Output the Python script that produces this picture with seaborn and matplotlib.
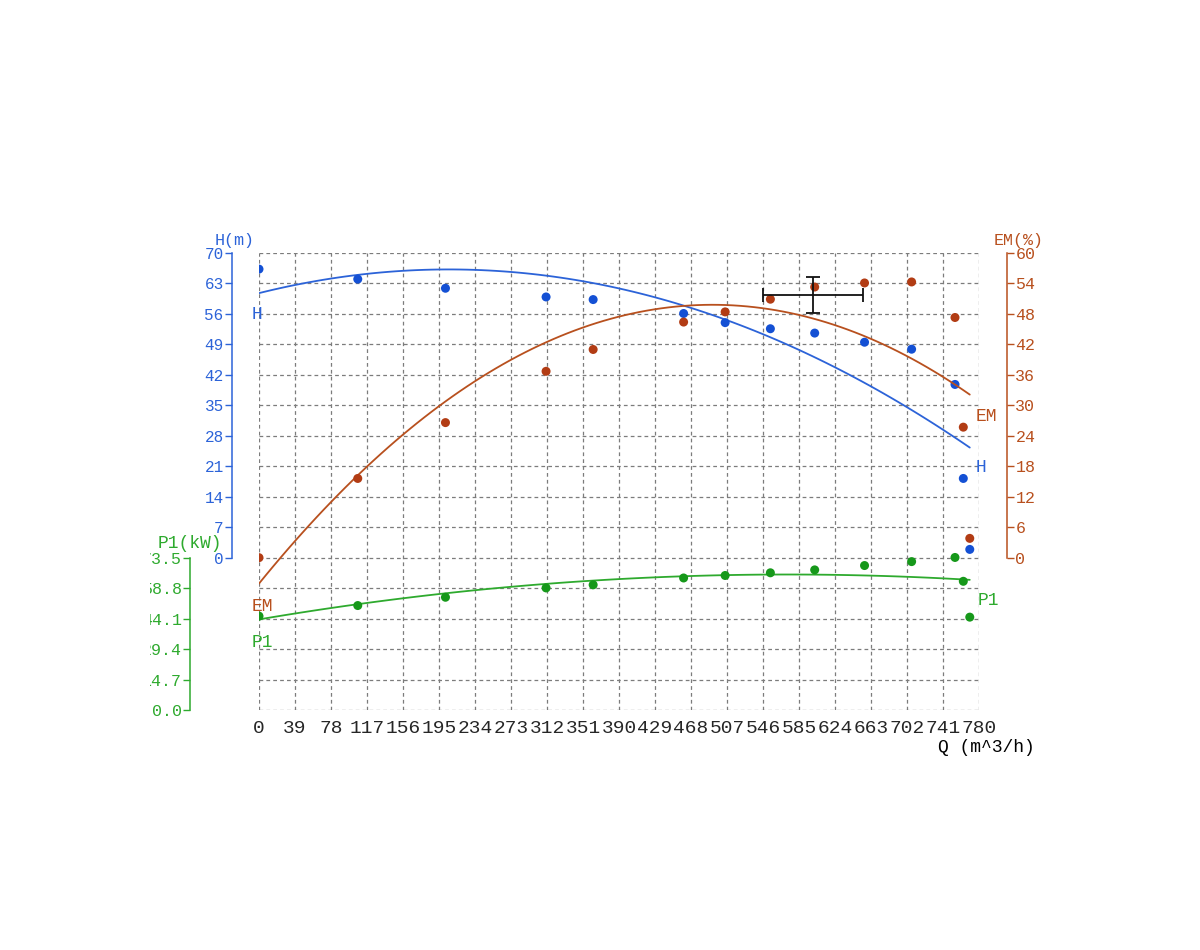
import matplotlib
matplotlib.use('Agg')
import matplotlib.pyplot as plt
import seaborn as sns
import numpy as np
from matplotlib.transforms import Bbox

# measured pump test points, Q in m^3/h
q_pts = [0, 107, 202, 311, 362, 460, 505, 554, 602, 656, 707, 754, 763, 770]
h_pts = [66.3, 64.0, 61.9, 59.9, 59.3, 56.1, 54.0, 52.6, 51.6, 49.5, 47.9, 39.8, 18.2, 1.9]
em_pts = [0.0, 15.6, 26.6, 36.7, 41.0, 46.4, 48.4, 50.9, 53.3, 54.1, 54.3, 47.3, 25.7, 3.8]
p1_pts = [45.3, 50.4, 54.4, 58.9, 60.4, 63.7, 64.9, 66.2, 67.6, 69.7, 71.6, 73.6, 62.1, 44.8]

# fitted curves (drawn as 2nd order fits)
q_fit = [0, 78, 156, 234, 312, 390, 468, 546, 624, 702, 770]
h_fit = [60.8, 64.1, 65.9, 66.1, 64.8, 61.9, 57.4, 51.3, 43.7, 34.6, 25.3]
em_fit = [-5.1, 11.0, 24.2, 34.7, 42.5, 47.5, 49.7, 49.1, 45.8, 39.7, 32.1]
p1_fit = [43.7, 49.2, 53.9, 57.8, 60.9, 63.2, 64.6, 65.3, 65.2, 64.3, 62.8]

# duty point cross (on the EM scale)
duty_q, duty_em = 600, 51.7
duty_qerr, duty_emerr = 54, 3.6

# axis ticks
q_ticks = list(range(0, 781, 39))
h_ticks = list(range(0, 71, 7))
em_ticks = list(range(0, 61, 6))
p1_ticks = [0.0, 14.7, 29.4, 44.1, 58.8, 73.5]

BLUE, BLUE_PT = '#2c63d8', '#1450d4'
BROWN, BROWN_PT = '#b8501e', '#b23c14'
GREEN, GREEN_PT = '#2eaa2e', '#16981a'
GRID = '#7c7c7c'

sns.set_style('white')
plt.rcParams['font.family'] = ['Liberation Mono', 'DejaVu Sans']

fig = plt.figure(figsize=(12, 9.5), dpi=100)
ax = fig.add_axes([259 / 1200, 240 / 950, 720 / 1200, 457 / 950])
em = ax.twinx()
p1 = ax.twinx()

def px(x, y):
    return x / 1200, 1 - y / 950

# --- base axes: grid + H ---
ax.set_xlim(0, 780)
ax.set_ylim(-35, 70)
ax.set_xticks(q_ticks)
ax.set_yticks(h_ticks)
ax.set_yticks(np.arange(-35, 71, 7), minor=True)
ax.grid(axis='x', which='major', color=GRID, linestyle=(0, (3, 2.5)), linewidth=0.9)
ax.grid(axis='y', which='both', color=GRID, linestyle=(0, (3, 2.5)), linewidth=0.9)
ax.tick_params(axis='y', which='minor', length=0)
ax.tick_params(axis='x', length=4, direction='inout', color='#555555', labelsize=14, pad=5)
ax.tick_params(axis='y', which='major', direction='out', length=5, width=1,
               color=BLUE, labelcolor=BLUE, labelsize=11.5, pad=1)
for s in ['top', 'right', 'bottom']:
    ax.spines[s].set_visible(False)
ax.spines['left'].set_position(('outward', 19.4))
ax.spines['left'].set_bounds(0, 70)
ax.spines['left'].set_color(BLUE)
ax.spines['left'].set_linewidth(1.1)

sns.regplot(x=q_fit, y=h_fit, order=2, scatter=False, ci=None, ax=ax,
            line_kws=dict(color=BLUE, lw=1.3))
sns.scatterplot(x=q_pts, y=h_pts, ax=ax, color=BLUE_PT, s=42, edgecolor='none', zorder=4)

# --- EM axis (right) ---
em.set_ylim(-30, 60)
em.set_yticks(em_ticks)
em.tick_params(axis='y', direction='out', length=5, width=1, color=BROWN,
               labelcolor=BROWN, labelsize=12, pad=1)
for s in ['top', 'left', 'bottom']:
    em.spines[s].set_visible(False)
em.spines['right'].set_position(('outward', 20.2))
em.spines['right'].set_bounds(0, 60)
em.spines['right'].set_color(BROWN)
em.spines['right'].set_linewidth(1.1)

sns.regplot(x=q_fit, y=em_fit, order=2, scatter=False, ci=None, ax=em,
            line_kws=dict(color=BROWN, lw=1.3))
sns.scatterplot(x=q_pts, y=em_pts, ax=em, color=BROWN_PT, s=42, edgecolor='none', zorder=4)
em.errorbar(duty_q, duty_em, xerr=duty_qerr, yerr=duty_emerr, color='#111111',
            lw=1.3, capsize=5, capthick=1.3, zorder=5)

# --- P1 axis (far left) ---
p1.set_ylim(0, 220.5)
p1.set_yticks(p1_ticks)
p1.set_yticklabels([f'{v:.1f}' for v in p1_ticks])
p1.yaxis.tick_left()
p1.tick_params(axis='y', direction='out', length=5, width=1, color=GREEN,
               labelcolor=GREEN, labelsize=12, pad=1)
for s in ['top', 'right', 'bottom']:
    p1.spines[s].set_visible(False)
p1.spines['left'].set_visible(True)
p1.spines['left'].set_position(('outward', 49.7))
p1.spines['left'].set_bounds(0, 73.5)
p1.spines['left'].set_color(GREEN)
p1.spines['left'].set_linewidth(1.1)
for t in p1.get_yticklabels():
    t.set_clip_on(True)
    t.set_clip_box(Bbox.from_extents(150, 0, 1200, 950))

sns.regplot(x=q_fit, y=p1_fit, order=2, scatter=False, ci=None, ax=p1,
            line_kws=dict(color=GREEN, lw=1.3))
sns.scatterplot(x=q_pts, y=p1_pts, ax=p1, color=GREEN_PT, s=42, edgecolor='none', zorder=4)

for a in (ax, em, p1):
    a.set_xlabel('')
    a.set_ylabel('')

# curve end labels
lab = dict(textcoords='offset pixels', ha='left', va='center', fontsize=13)
ax.annotate('H', xy=(q_fit[0], h_fit[0]), xytext=(-7, -21), color=BLUE, **lab)
ax.annotate('H', xy=(q_fit[-1], h_fit[-1]), xytext=(6, -20), color=BLUE, **lab)
em.annotate('EM', xy=(q_fit[0], em_fit[0]), xytext=(-7, -23), color=BROWN, **lab)
em.annotate('EM', xy=(q_fit[-1], em_fit[-1]), xytext=(6, -22), color=BROWN, **lab)
p1.annotate('P1', xy=(q_fit[0], p1_fit[0]), xytext=(-7, -23), color=GREEN, **lab)
p1.annotate('P1', xy=(q_fit[-1], p1_fit[-1]), xytext=(8, -21), color=GREEN, **lab)

# axis titles
fig.text(*px(235, 240), 'H(m)', color=BLUE, fontsize=12, ha='center', va='center')
fig.text(*px(1019, 240), 'EM(%)', color=BROWN, fontsize=12, ha='center', va='center')
fig.text(*px(190, 543), 'P1(kW)', color=GREEN, fontsize=13, ha='center', va='center')
fig.text(*px(1035, 748), 'Q (m^3/h)', color='black', fontsize=13, ha='right', va='center')

fig.savefig('out.png', dpi=100)
